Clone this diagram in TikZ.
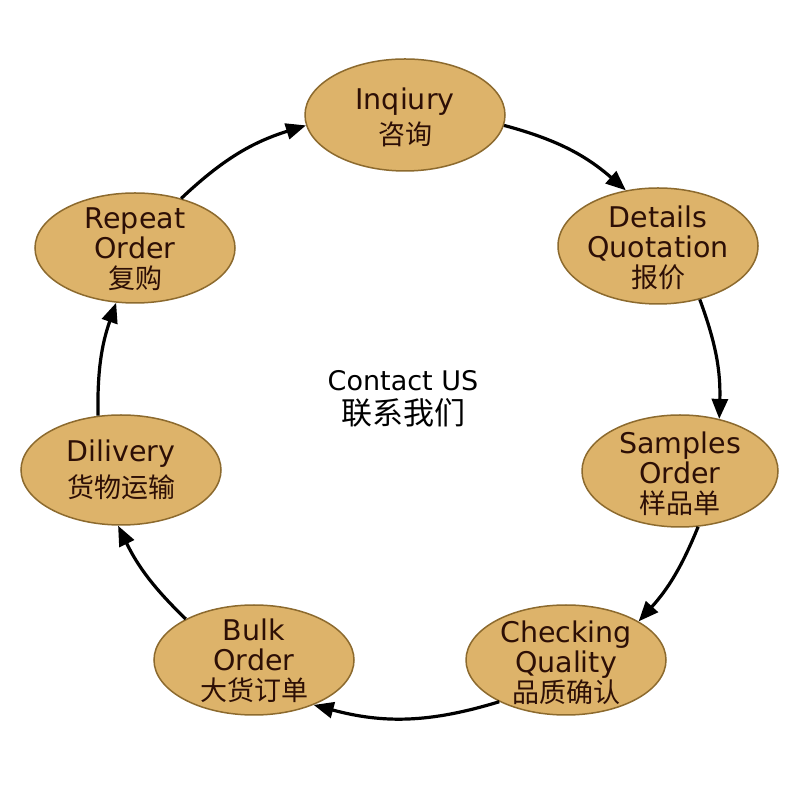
\documentclass[tikz,border=0pt]{standalone}
\usepackage{fontspec}
\setmainfont{DejaVu Sans}
\newfontfamily\cjkf{Noto Sans CJK SC}
\newcommand{\cjk}{\cjkf\fontsize{27}{30}\selectfont}
\usetikzlibrary{shapes.geometric,arrows.meta}
\definecolor{fillc}{RGB}{221,179,106}
\definecolor{edgec}{RGB}{140,106,46}
\definecolor{txtc}{RGB}{45,15,6}
\begin{document}
\begin{tikzpicture}[x=1pt,y=1pt,
 stage/.style={ellipse,draw=edgec,fill=fillc,line width=1.5pt,minimum width=200pt,minimum height=112pt,inner sep=0pt},
 lbl/.style={align=center,text=txtc,font=\fontsize{28.5}{30}\selectfont,inner sep=0pt},
 arr/.style={line width=3.2pt,-{Triangle[length=20pt,width=16pt]}}]
\useasboundingbox (0,0) rectangle (800,800);
\fill[white] (0,0) rectangle (800,800);
% ellipses
\node[stage] (inq) at (405,685) {};
\node[stage,minimum height=116pt] (det) at (658,554) {};
\node[stage,minimum width=196pt] (smp) at (680,329) {};
\node[stage,minimum height=110pt] (chk) at (566,140) {};
\node[stage,minimum height=110pt] (blk) at (254,140) {};
\node[stage,minimum height=110pt] (dil) at (121,330) {};
\node[stage,minimum height=110pt] (rep) at (135,552) {};
% labels
\node[lbl] (tinq) at (405,683) {Inqiury\\[5pt]{\cjk 咨询}};
\node[lbl] (tdet) at (658,552) {Details\\Quotation\\{\cjk 报价}};
\node[lbl] (tsmp) at (680,326) {Samples\\Order\\{\cjk 样品单}};
\node[lbl] (tchk) at (566,137) {Checking\\Quality\\{\cjk 品质确认}};
\node[lbl] (tblk) at (254,139) {Bulk\\Order\\{\cjk 大货订单}};
\node[lbl] (tdil) at (121,330) {Dilivery\\[6pt]{\cjk 货物运输}};
\node[lbl] (trep) at (135,551) {Repeat\\Order\\{\cjk 复购}};
% center
\node[align=center,inner sep=0pt] (ctr) at (403,401) {{\fontsize{27}{28}\selectfont Contact US}\\[7pt]{\cjkf\fontsize{31}{33}\selectfont 联系我们}};
% arrows
\draw[arr] (inq.-6) to[bend left=13] (det.120);
\draw[arr] (det.-52) to[bend left=11] (smp.53);
\draw[arr] (smp.-72) to[bend left=10] (chk.28);
\draw[arr] (chk.212) to[bend left=16] (blk.-37);
\draw[arr] (blk.149) to[bend left=10] (dil.-93);
\draw[arr] (dil.113) to[bend left=10] (rep.-109);
\draw[arr] (rep.47) to[bend left=13] (inq.186);
\end{tikzpicture}
\end{document}
